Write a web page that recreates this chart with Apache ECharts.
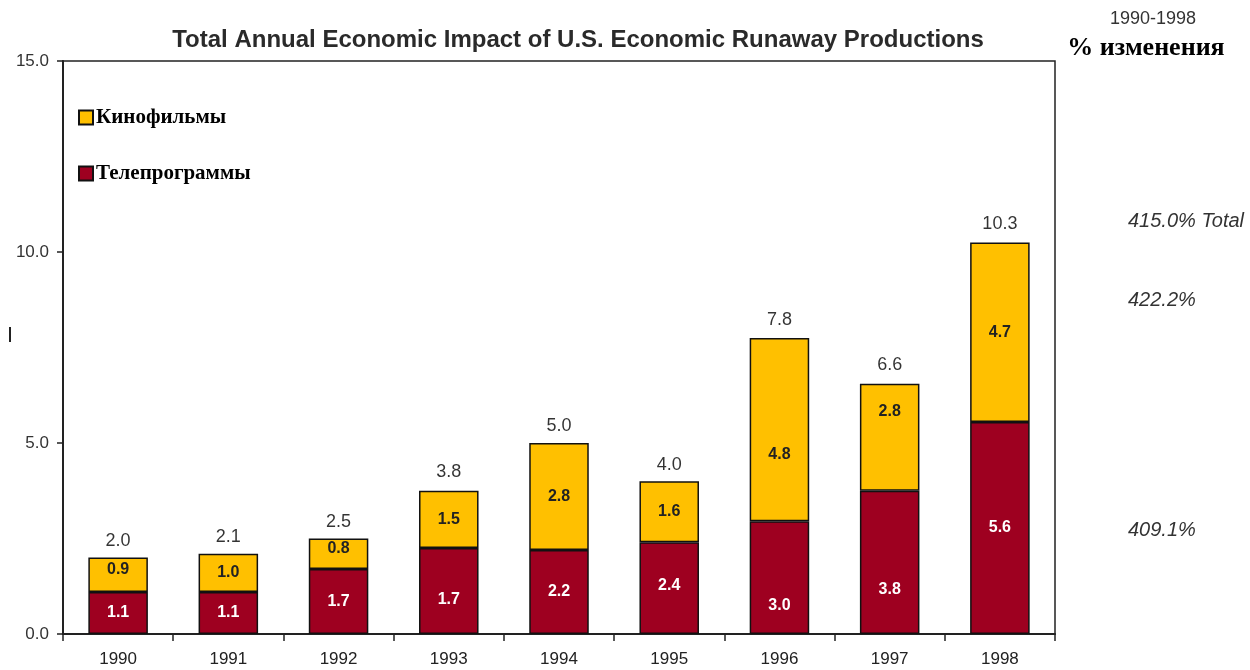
<!DOCTYPE html>
<html>
<head>
<meta charset="utf-8">
<script src="https://cdn.jsdelivr.net/npm/echarts@6/dist/echarts.min.js"></script>
<style>
html,body{margin:0;padding:0;background:#fff;}
#chart{width:1250px;height:670px;}
</style>
</head>
<body>
<div id="chart"></div>
<script>
// ---- data ----
const years = ['1990','1991','1992','1993','1994','1995','1996','1997','1998'];
// bar segment heights as drawn
const tvValues   = [1.1, 1.1, 1.7, 2.25, 2.2, 2.4, 2.95, 3.75, 5.55];
const filmValues = [0.9, 1.0, 0.8, 1.5, 2.8, 1.6, 4.8, 2.8, 4.7];
// labels as printed
const tvLabels   = ['1.1','1.1','1.7','1.7','2.2','2.4','3.0','3.8','5.6'];
const filmLabels = ['0.9','1.0','0.8','1.5','2.8','1.6','4.8','2.8','4.7'];
const totals     = [2.0, 2.1, 2.5, 3.8, 5.0, 4.0, 7.8, 6.6, 10.3];
const yTicks = [0, 5, 15];
const seriesNames = ['Кинофильмы', 'Телепрограммы'];
const changeHeader = ['1990-1998', '% изменения'];
const changeValues = ['415.0% Total', '422.2%', '409.1%'];

// layout only: vertical nudges of in-bar labels (px), as placed in the original
const tvLabelShift   = [0, 0, 0, 9, 0, -3, 28, 27, 0];
const filmLabelShift = [-5, 0, -5, 0, 0, 0, 25, -26, 0];

const sans = '"Liberation Sans", Arial, sans-serif';
const serif = '"Liberation Serif", "Times New Roman", serif';
const YELLOW = '#FFC000';
const MAROON = '#9E0020';

const withShift = (vals, shifts) => vals.map((v, i) => ({value: v, label: {offset: [0, shifts[i]]}}));

const chart = echarts.init(document.getElementById('chart'), null, {renderer: 'canvas'});
chart.setOption({
  animation: false,
  backgroundColor: '#ffffff',
  legend: {
    data: [seriesNames[0], seriesNames[1]],
    orient: 'vertical', left: 78, top: 107, padding: 0,
    itemWidth: 14, itemHeight: 14, itemGap: 35,
    icon: 'rect',
    textStyle: {fontFamily: serif, fontSize: 21, fontWeight: 'bold', color: '#000', padding: [0, 0, 0, -2]}
  },
  grid: {left: 63, right: 195, top: 61, bottom: 36, show: true, borderColor: '#222', borderWidth: 1.5, backgroundColor: 'transparent'},
  xAxis: {
    type: 'category', data: years,
    axisLine: {lineStyle: {color: '#222', width: 2}},
    axisTick: {show: true, length: 7, lineStyle: {color: '#222', width: 1.5}},
    axisLabel: {fontFamily: sans, fontSize: 17, color: '#222', margin: 17}
  },
  yAxis: {
    type: 'value', min: yTicks[0], max: yTicks[2], interval: yTicks[1],
    splitLine: {show: false},
    axisLine: {show: true, lineStyle: {color: '#222', width: 2}},
    axisTick: {show: true, length: 6, lineStyle: {color: '#222', width: 1.5}},
    axisLabel: {fontFamily: sans, fontSize: 17, color: '#333', margin: 14,
      formatter: v => v.toFixed(1)}
  },
  series: [
    {
      name: seriesNames[1], type: 'bar', stack: 'a', barWidth: '54%',
      data: withShift(tvValues, tvLabelShift),
      itemStyle: {color: MAROON, borderColor: '#111', borderWidth: 1.5},
      label: {show: true, position: 'inside', color: '#fff', fontFamily: sans, fontSize: 16, fontWeight: 'bold',
        formatter: p => tvLabels[p.dataIndex]}
    },
    {
      name: seriesNames[0], type: 'bar', stack: 'a', barWidth: '54%',
      data: withShift(filmValues, filmLabelShift),
      itemStyle: {color: YELLOW, borderColor: '#111', borderWidth: 1.5},
      label: {show: true, position: 'inside', color: '#222', fontFamily: sans, fontSize: 16, fontWeight: 'bold',
        formatter: p => filmLabels[p.dataIndex]}
    },
    {
      name: 'total', type: 'scatter', data: totals, symbolSize: 1,
      itemStyle: {color: 'transparent'}, silent: true,
      label: {show: true, position: 'top', distance: 7, color: '#000', fontFamily: sans, fontSize: 18,
        formatter: p => totals[p.dataIndex].toFixed(1)}
    }
  ],
  graphic: [
    {type: 'text', x: 578, y: 40, style: {text: 'Total Annual Economic Impact of U.S. Economic Runaway Productions',
      font: 'bold 24px ' + sans, fill: '#2a2a2a', align: 'center', verticalAlign: 'middle'}},
    {type: 'text', x: 1153, y: 19, style: {text: changeHeader[0], font: '18px ' + sans, fill: '#333', align: 'center', verticalAlign: 'middle'}},
    {type: 'text', x: 1146, y: 48, style: {text: changeHeader[1], font: 'bold 26px ' + serif, fill: '#000', align: 'center', verticalAlign: 'middle'}},
    {type: 'text', x: 1128, y: 221, style: {text: changeValues[0], font: 'italic 20px ' + sans, fill: '#333', verticalAlign: 'middle'}},
    {type: 'text', x: 1128, y: 300, style: {text: changeValues[1], font: 'italic 20px ' + sans, fill: '#333', verticalAlign: 'middle'}},
    {type: 'text', x: 1128, y: 530, style: {text: changeValues[2], font: 'italic 20px ' + sans, fill: '#333', verticalAlign: 'middle'}},
    {type: 'rect', left: 9, top: 327, shape: {width: 2, height: 15}, style: {fill: '#222'}}
  ]
});
</script>
</body>
</html>
